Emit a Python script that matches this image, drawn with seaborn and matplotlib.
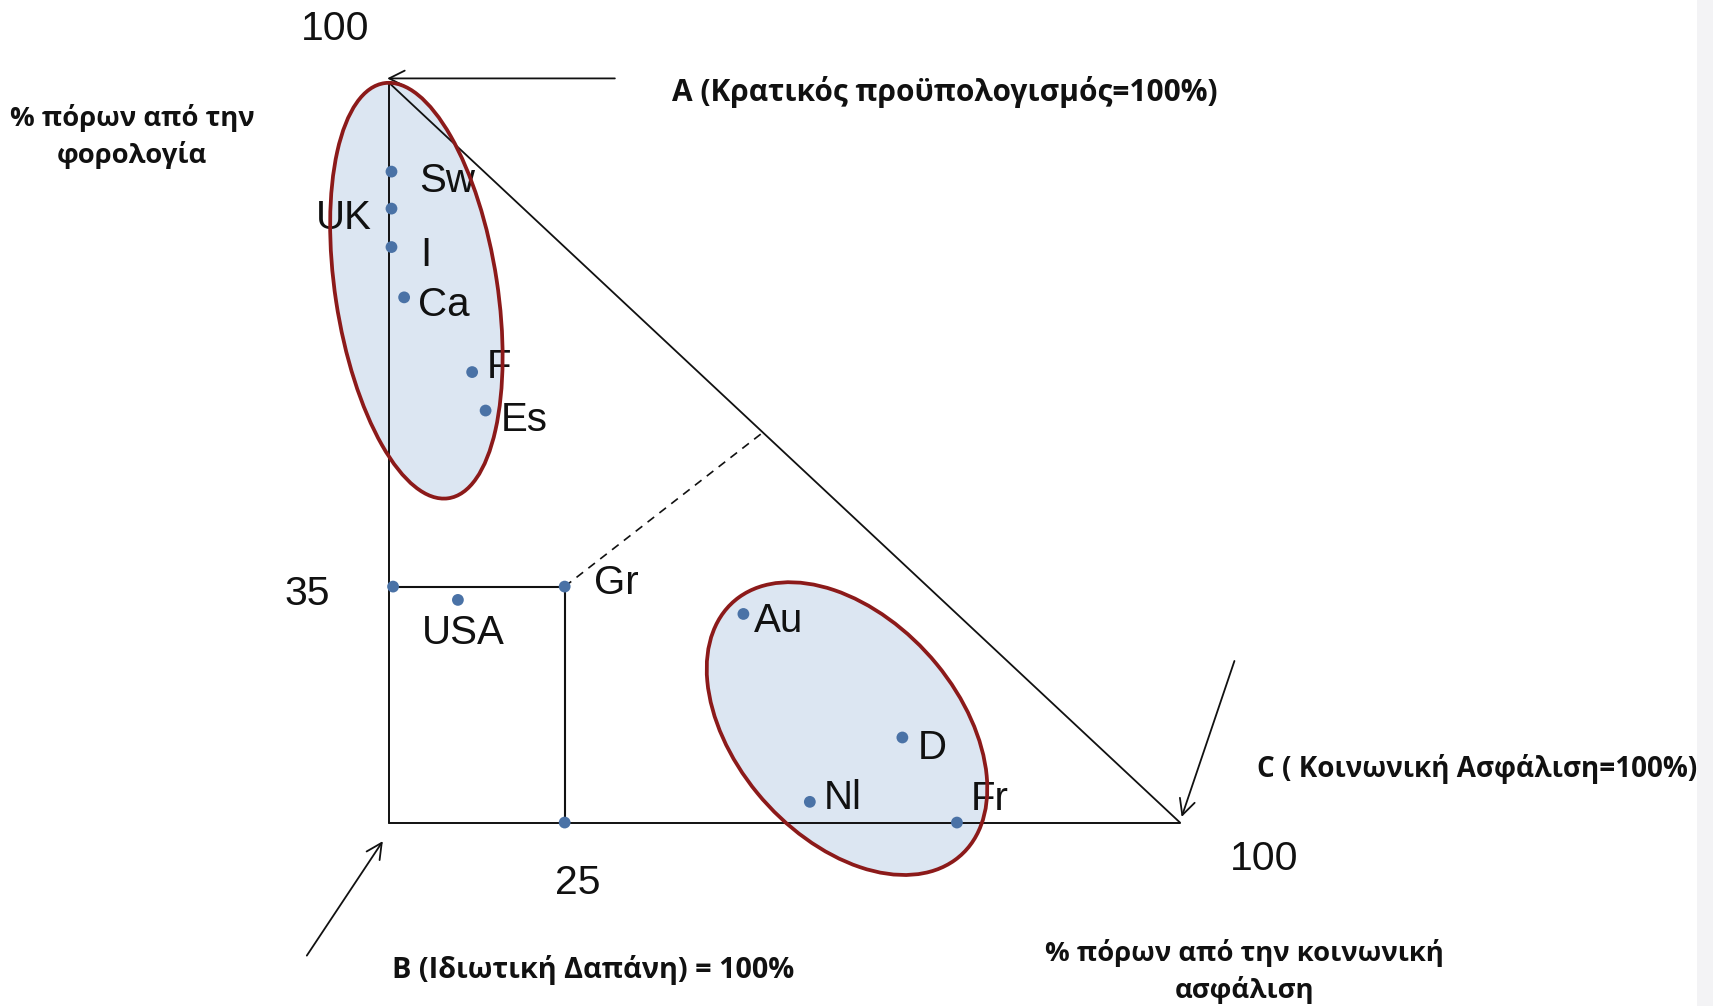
import matplotlib
matplotlib.use('Agg')
import matplotlib.pyplot as plt
import seaborn as sns
import pandas as pd
from matplotlib.patches import Ellipse, Rectangle

# country positions: x = % from social insurance, y = % from taxation (schematic)
countries = ['Sw', 'UK', 'I', 'Ca', 'F', 'Es', 'USA', 'Gr', 'Au', 'D', 'Nl', 'Fr']
social_ins = [0.3, 0.3, 0.3, 1.9, 10.5, 12.2, 8.7, 22.2, 44.8, 64.9, 53.2, 71.8]
taxation = [88.0, 83.0, 77.8, 71.0, 60.9, 55.7, 30.1, 31.9, 28.2, 11.5, 2.8, 0.0]

# reference marks on the axes (35 on y, 25 on x)
guide_x = [0.5, 22.2]
guide_y = [31.9, 0.0]
tick_x_pos, tick_x_label = 22.2, '25'
tick_y_pos, tick_y_label = 31.9, '35'

# label offsets in points and alignment
label_dx = [19.7, -14.2, 20.5, 10.2, 10.2, 11.0, 3.9, 21.2, 7.9, 11.0, 10.2, 10.2]
label_dy = [-6.5, -6.5, -5.8, -5.8, 3.5, -6.5, -24.0, 2.7, -5.0, -7.3, 2.7, 17.3]
label_ha = ['left', 'right', 'left', 'left', 'left', 'left', 'center', 'left', 'left', 'left', 'left', 'left']

df = pd.DataFrame({'country': countries, 'social': social_ins, 'tax': taxation})

sns.set_theme(style='white')
plt.rcParams['font.family'] = ['Liberation Sans', 'DejaVu Sans']
greek = ['Open Sans', 'DejaVu Sans']

fig = plt.figure(figsize=(17.13, 10.06), dpi=100)
fig.patches.append(Rectangle((0.9907, 0), 0.0093, 1, transform=fig.transFigure,
                             facecolor='#f3f3f5', edgecolor='none', zorder=0))
ax = fig.add_axes([0, 0, 1, 1])
ax.patch.set_alpha(0)
ax.set_xlim(-49.2, 167.4)
ax.set_ylim(-24.8, 111.2)
ax.axis('off')

# groups (ellipses)
fill_c = '#dce6f2'
edge_c = '#8c1a1a'
for (cx, cy, w, h, ang) in [(3.45, 71.9, 56.7, 20.5, -81.9), (57.9, 12.7, 44.8, 28.6, -52.5)]:
    ax.add_patch(Ellipse((cx, cy), w, h, angle=ang, facecolor=fill_c, edgecolor='none', zorder=1))
    ax.add_patch(Ellipse((cx, cy), w, h, angle=ang, facecolor='none', edgecolor=edge_c, lw=2.7, zorder=5))

# triangle and box
lc = '#111111'
ax.plot([0, 0], [0, 100], color=lc, lw=1.4, zorder=2)
ax.plot([0, 100], [0, 0], color=lc, lw=1.4, zorder=2)
ax.plot([0, 100], [100, 0], color=lc, lw=1.3, zorder=2)
ax.plot([0, tick_x_pos, tick_x_pos], [tick_y_pos, tick_y_pos, 0], color=lc, lw=1.5, zorder=2)
ax.plot([tick_x_pos, 47.1], [tick_y_pos, 52.6], color=lc, lw=1.2, ls=(0, (5, 4)), zorder=2)

# corner arrows
arr = dict(arrowstyle='->', lw=1.3, color=lc, mutation_scale=28)
ax.annotate('', xy=(-0.6, 100.6), xytext=(28.9, 100.6), arrowprops=arr)
ax.annotate('', xy=(100.1, 0.4), xytext=(107.0, 22.2), arrowprops=arr)
ax.annotate('', xy=(-0.6, -2.2), xytext=(-10.6, -18.3), arrowprops=arr)

# points
sns.scatterplot(data=df, x='social', y='tax', ax=ax, color='#4a72a6', s=72,
                edgecolor='none', zorder=4, legend=False)
ax.scatter(guide_x, guide_y, color='#4a72a6', s=72, edgecolor='none', zorder=4)

for c, x, y, dx, dy, ha in zip(countries, social_ins, taxation, label_dx, label_dy, label_ha):
    ax.annotate(c, (x, y), xytext=(dx, dy), textcoords='offset points', ha=ha, va='center',
                fontsize=29, color='#111111', zorder=3)

# tick numbers
num = dict(fontsize=29.5, color='#111111', ha='center', va='center')
ax.text(-6.8, 107.3, '100', **num)
ax.text(-10.4, 30.9, tick_y_label, **num)
ax.text(23.8, -8.2, tick_x_label, **num)
ax.text(110.6, -4.9, '100', **num)

# annotations
gt = dict(family=greek, weight='bold', color='#111111', va='center')
ax.text(-32.5, 92.8, '% πόρων από την\nφορολογία', ha='center', linespacing=1.4, fontsize=19.7, **gt)
ax.text(35.8, 98.8, 'A (Κρατικός προϋπολογισμός=100%)', ha='left', fontsize=21.5, **gt)
ax.text(109.7, 7.2, 'C ( Κοινωνική Ασφάλιση=100%)', ha='left', fontsize=20.0, **gt)
ax.text(0.4, -19.9, 'B (Ιδιωτική Δαπάνη) = 100%', ha='left', fontsize=20.8, **gt)
ax.text(108.1, -20.1, '% πόρων από την κοινωνική\nασφάλιση', ha='center', linespacing=1.4,
        fontsize=19.7, **gt)

fig.savefig('out.png', dpi=100)
